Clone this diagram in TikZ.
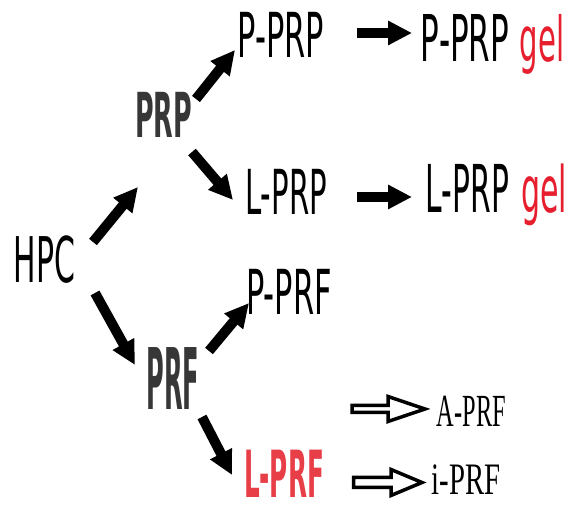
\documentclass[tikz,border=0pt]{standalone}
\usepackage{fontspec}
\usepackage{graphicx}
\usetikzlibrary{arrows.meta}
\newfontfamily\djsans{DejaVu Sans}
\newfontfamily\lserif{Liberation Serif}
\definecolor{gelred}{RGB}{230,30,45}
\definecolor{lprfred}{RGB}{232,62,72}
\definecolor{prgray}{RGB}{55,55,55}
\newcommand\sqz[3]{\scalebox{#1}[1]{\fontsize{#2pt}{#2pt}\selectfont #3}}
\begin{document}
\begin{tikzpicture}[x=1pt,y=1pt,
  lbl/.style={inner sep=0pt, anchor=base, font=\djsans},
  blbl/.style={inner sep=0pt, anchor=base, font=\djsans\bfseries},
  slbl/.style={inner sep=0pt, anchor=base, font=\lserif},
  fat/.style={line width=10pt, -{Triangle[length=24pt,width=23pt]}},
  hollow/.style={draw=black, line width=3.5pt, fill=white, line join=miter}]
\fill[white] (0,0) rectangle (574,505);
\useasboundingbox (0,0) rectangle (574,505);

% labels
\node[lbl] (hpc) at (44.5,222) {\sqz{0.475}{63}{HPC}};
\node[blbl, text=prgray] (prp) at (163.5,367) {\sqz{0.41}{62}{PRP}};
\node[blbl, text=prgray] (prf) at (173,95) {\sqz{0.284}{85}{PRF}};
\node[lbl] (pprp) at (281,447) {\sqz{0.49}{62}{P-PRP}};
\node[lbl] (lprp) at (286,290) {\sqz{0.47}{62}{L-PRP}};
\node[lbl] (pprf) at (289,190) {\sqz{0.49}{62}{P-PRF}};
\node[blbl, text=lprfred] (lprf) at (284,7) {\sqz{0.38}{65}{L-PRF}};
\node[lbl] (pprpgel) at (465,443) {\sqz{0.48}{64.5}{P-PRP}};
\node[lbl, text=gelred] (gel1) at (542,443) {\sqz{0.47}{62}{gel}};
\node[lbl] (lprpgel) at (467.5,292) {\sqz{0.45}{66}{L-PRP}};
\node[lbl, text=gelred] (gel2) at (544,292) {\sqz{0.47}{64}{gel}};
\node[slbl] (aprf) at (471.5,78) {\sqz{0.53}{46}{A-PRF}};
\node[slbl] (iprf) at (466,10) {\sqz{0.64}{45}{i-PRF}};

% solid arrows
\draw[fat] ([shift={(48.5,41)}]hpc.base) -- ([shift={(-25.5,-49)}]prp.base);
\draw[fat] ([shift={(50.5,-10)}]hpc.base) -- ([shift={(-38,45)}]prf.base);
\draw[fat] ([shift={(32.5,39)}]prp.base) -- ([shift={(-46,8)}]pprp.base);
\draw[fat] ([shift={(28.5,-14)}]prp.base) -- ([shift={(-53,15)}]lprp.base);
\draw[fat] ([shift={(36,59)}]prf.base) -- ([shift={(-40,12)}]pprf.base);
\draw[fat] ([shift={(29,-7)}]prf.base) -- ([shift={(-52,23)}]lprf.base);
\draw[fat] ([shift={(76,25)}]pprp.base) -- ([shift={(-53,29)}]pprpgel.base);
\draw[fat] ([shift={(71,18)}]lprp.base) -- ([shift={(-55.5,16)}]lprpgel.base);

% hollow arrows
\coordinate (atip) at ([shift={(-46.5,18)}]aprf.base);
\coordinate (itip) at ([shift={(-44,12.5)}]iprf.base);
\draw[hollow] (atip) -- ++(-37,12.5) -- ++(0,-9) -- ++(-36,0) -- ++(0,-7) -- ++(36,0) -- ++(0,-9) -- cycle;
\draw[hollow] (itip) -- ++(-31,13) -- ++(0,-8) -- ++(-37.5,0) -- ++(0,-10) -- ++(37.5,0) -- ++(0,-8) -- cycle;
\end{tikzpicture}
\end{document}
